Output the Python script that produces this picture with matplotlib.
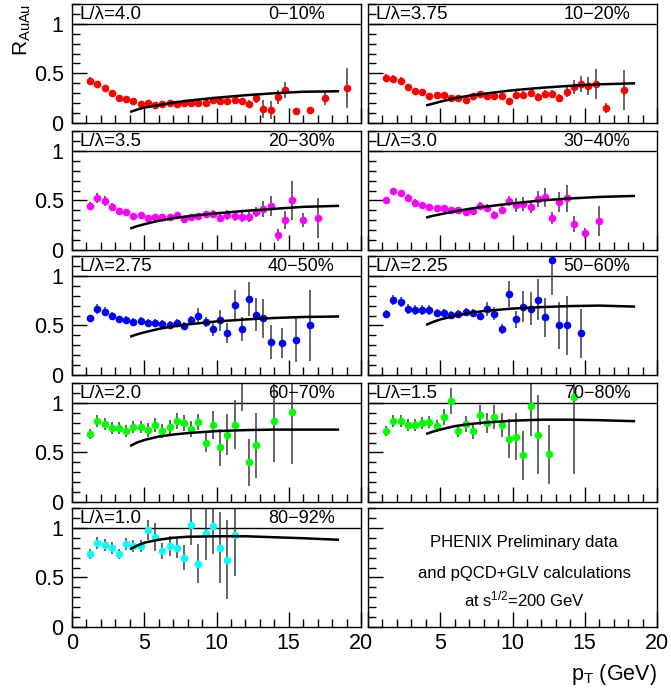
import matplotlib.pyplot as plt
from matplotlib.ticker import MultipleLocator

plt.rcParams['font.family'] = ['Liberation Sans', 'DejaVu Sans']
plt.rcParams['mathtext.fontset'] = 'custom'
plt.rcParams['mathtext.rm'] = 'Liberation Sans'
plt.rcParams['mathtext.it'] = 'Liberation Sans'

# --- data ---
pt_0_10 = [1.25, 1.75, 2.25, 2.75, 3.25, 3.75, 4.25, 4.75, 5.25, 5.75, 6.25, 6.75, 7.25, 7.75, 8.25, 8.75,
           9.25, 9.75, 10.25, 10.75, 11.25, 11.75, 12.25, 12.75, 13.25, 13.75, 14.25, 14.75, 15.5, 16.5, 17.5, 19.0]
raa_0_10 = [0.42, 0.39, 0.35, 0.30, 0.25, 0.24, 0.22, 0.19, 0.20, 0.18, 0.19, 0.20, 0.19, 0.20, 0.20, 0.20,
            0.20, 0.23, 0.22, 0.22, 0.23, 0.22, 0.19, 0.25, 0.14, 0.13, 0.26, 0.33, 0.12, 0.13, 0.25, 0.35]
err_0_10 = [0.04, 0.03, 0.03, 0.03, 0.02, 0.02, 0.02, 0.02, 0.02, 0.02, 0.02, 0.02, 0.02, 0.02, 0.02, 0.02,
            0.02, 0.03, 0.03, 0.03, 0.03, 0.03, 0.04, 0.05, 0.09, 0.09, 0.07, 0.08, 0.03, 0.03, 0.07, 0.20]

pt_10_20 = [1.25, 1.75, 2.25, 2.75, 3.25, 3.75, 4.25, 4.75, 5.25, 5.75, 6.25, 6.75, 7.25, 7.75, 8.25, 8.75,
            9.25, 9.75, 10.25, 10.75, 11.25, 11.75, 12.25, 12.75, 13.25, 13.75, 14.25, 14.75, 15.25, 15.75, 16.5, 17.75]
raa_10_20 = [0.45, 0.44, 0.42, 0.36, 0.32, 0.31, 0.27, 0.28, 0.28, 0.25, 0.25, 0.23, 0.27, 0.29, 0.27, 0.27,
             0.27, 0.22, 0.28, 0.28, 0.30, 0.26, 0.29, 0.29, 0.25, 0.31, 0.36, 0.39, 0.37, 0.39, 0.15, 0.33]
err_10_20 = [0.04, 0.04, 0.04, 0.03, 0.03, 0.03, 0.03, 0.03, 0.03, 0.02, 0.02, 0.02, 0.03, 0.03, 0.03, 0.03,
             0.03, 0.03, 0.04, 0.04, 0.04, 0.04, 0.04, 0.04, 0.04, 0.05, 0.07, 0.08, 0.09, 0.15, 0.05, 0.20]

pt_20_30 = [1.25, 1.75, 2.25, 2.75, 3.25, 3.75, 4.25, 4.75, 5.25, 5.75, 6.25, 6.75, 7.25, 7.75, 8.25, 8.75,
            9.25, 9.75, 10.25, 10.75, 11.25, 11.75, 12.25, 12.75, 13.25, 13.75, 14.25, 14.75, 15.25, 16.0, 17.0]
raa_20_30 = [0.44, 0.52, 0.49, 0.43, 0.39, 0.38, 0.34, 0.35, 0.32, 0.33, 0.33, 0.33, 0.35, 0.31, 0.33, 0.34,
             0.36, 0.36, 0.32, 0.35, 0.34, 0.33, 0.33, 0.38, 0.41, 0.44, 0.15, 0.30, 0.50, 0.30, 0.32]
err_20_30 = [0.04, 0.05, 0.05, 0.04, 0.03, 0.03, 0.03, 0.03, 0.02, 0.02, 0.02, 0.02, 0.03, 0.03, 0.03, 0.03,
             0.03, 0.04, 0.04, 0.05, 0.05, 0.05, 0.05, 0.05, 0.08, 0.10, 0.06, 0.09, 0.20, 0.07, 0.20]

pt_30_40 = [1.25, 1.75, 2.25, 2.75, 3.25, 3.75, 4.25, 4.75, 5.25, 5.75, 6.25, 6.75, 7.25, 7.75, 8.25, 8.75,
            9.25, 9.75, 10.25, 10.75, 11.25, 11.75, 12.25, 12.75, 13.25, 13.75, 14.25, 15.0, 16.0]
raa_30_40 = [0.50, 0.59, 0.57, 0.52, 0.47, 0.45, 0.43, 0.42, 0.42, 0.40, 0.40, 0.38, 0.39, 0.44, 0.42, 0.35,
             0.40, 0.49, 0.45, 0.46, 0.43, 0.51, 0.53, 0.32, 0.48, 0.52, 0.26, 0.17, 0.29]
err_30_40 = [0.03, 0.04, 0.04, 0.04, 0.04, 0.03, 0.03, 0.03, 0.03, 0.03, 0.03, 0.03, 0.03, 0.04, 0.04, 0.04,
             0.04, 0.05, 0.07, 0.07, 0.06, 0.08, 0.10, 0.06, 0.10, 0.14, 0.08, 0.05, 0.15]

pt_40_50 = [1.25, 1.75, 2.25, 2.75, 3.25, 3.75, 4.25, 4.75, 5.25, 5.75, 6.25, 6.75, 7.25, 7.75, 8.25, 8.75,
            9.25, 9.75, 10.25, 10.75, 11.25, 11.75, 12.25, 12.75, 13.25, 13.75, 14.5, 15.5, 16.5]
raa_40_50 = [0.57, 0.67, 0.64, 0.60, 0.56, 0.55, 0.53, 0.54, 0.52, 0.52, 0.51, 0.50, 0.52, 0.49, 0.55, 0.60,
             0.53, 0.46, 0.55, 0.42, 0.71, 0.46, 0.77, 0.61, 0.57, 0.33, 0.32, 0.35, 0.50]
err_40_50 = [0.04, 0.05, 0.05, 0.04, 0.04, 0.04, 0.04, 0.04, 0.04, 0.04, 0.04, 0.04, 0.04, 0.04, 0.05, 0.08,
             0.05, 0.07, 0.11, 0.10, 0.15, 0.12, 0.17, 0.17, 0.20, 0.17, 0.15, 0.22, 0.36]

pt_50_60 = [1.25, 1.75, 2.25, 2.75, 3.25, 3.75, 4.25, 4.75, 5.25, 5.75, 6.25, 6.75, 7.25, 7.75, 8.25, 8.75,
            9.25, 9.75, 10.25, 10.75, 11.25, 11.75, 12.25, 12.75, 13.25, 13.75, 14.75]
raa_50_60 = [0.62, 0.76, 0.74, 0.67, 0.66, 0.66, 0.66, 0.63, 0.63, 0.61, 0.62, 0.64, 0.63, 0.60, 0.67, 0.62,
             0.46, 0.82, 0.56, 0.69, 0.67, 0.76, 0.58, 1.16, 0.50, 0.50, 0.42]
err_50_60 = [0.04, 0.05, 0.05, 0.05, 0.05, 0.05, 0.05, 0.04, 0.04, 0.04, 0.04, 0.04, 0.04, 0.05, 0.07, 0.07,
             0.05, 0.13, 0.09, 0.16, 0.17, 0.21, 0.20, 0.35, 0.24, 0.30, 0.25]

pt_60_70 = [1.25, 1.75, 2.25, 2.75, 3.25, 3.75, 4.25, 4.75, 5.25, 5.75, 6.25, 6.75, 7.25, 7.75, 8.25, 8.75,
            9.25, 9.75, 10.25, 10.75, 11.25, 11.75, 12.25, 12.75, 14.0, 15.25]
raa_60_70 = [0.69, 0.82, 0.79, 0.75, 0.75, 0.72, 0.76, 0.76, 0.73, 0.78, 0.72, 0.76, 0.82, 0.80, 0.74, 0.81,
             0.60, 0.78, 0.55, 0.68, 0.78, 1.35, 0.40, 0.57, 0.82, 0.91]
err_60_70 = [0.05, 0.06, 0.06, 0.06, 0.06, 0.06, 0.06, 0.06, 0.07, 0.07, 0.07, 0.07, 0.08, 0.08, 0.08, 0.08,
             0.10, 0.14, 0.19, 0.21, 0.25, 0.43, 0.24, 0.33, 0.42, 0.53]

pt_70_80 = [1.25, 1.75, 2.25, 2.75, 3.25, 3.75, 4.25, 4.75, 5.25, 5.75, 6.25, 6.75, 7.25, 7.75, 8.25, 8.75,
            9.25, 9.75, 10.25, 10.75, 11.25, 11.75, 12.5, 14.25]
raa_70_80 = [0.72, 0.82, 0.82, 0.78, 0.78, 0.80, 0.81, 0.77, 0.86, 1.02, 0.72, 0.79, 0.72, 0.88, 0.80, 0.86,
             0.78, 0.64, 0.66, 0.47, 0.97, 0.68, 0.48, 1.06]
err_70_80 = [0.05, 0.06, 0.06, 0.06, 0.06, 0.06, 0.06, 0.06, 0.08, 0.13, 0.06, 0.08, 0.08, 0.10, 0.10, 0.12,
             0.12, 0.20, 0.24, 0.25, 0.30, 0.40, 0.30, 0.78]

pt_80_92 = [1.25, 1.75, 2.25, 2.75, 3.25, 3.75, 4.25, 4.75, 5.25, 5.75, 6.25, 6.75, 7.25, 7.75, 8.25, 8.75,
            9.25, 9.75, 10.25, 10.75, 11.25]
raa_80_92 = [0.74, 0.85, 0.83, 0.80, 0.74, 0.84, 0.82, 0.82, 0.98, 0.91, 0.77, 0.82, 0.80, 0.70, 1.03, 0.64,
             0.95, 1.02, 0.80, 0.68, 0.93]
err_80_92 = [0.05, 0.06, 0.06, 0.06, 0.05, 0.06, 0.06, 0.06, 0.10, 0.14, 0.08, 0.10, 0.10, 0.13, 0.20, 0.20,
             0.27, 0.28, 0.36, 0.40, 0.42]

# pQCD+GLV curves
theory_pt = [4.1, 4.5, 5, 6, 7, 8, 10, 12, 14, 16, 18.4]
glv_0_10 = [0.115, 0.135, 0.155, 0.18, 0.205, 0.225, 0.255, 0.28, 0.30, 0.315, 0.32]
glv_10_20 = [0.18, 0.195, 0.215, 0.25, 0.275, 0.295, 0.33, 0.355, 0.375, 0.39, 0.40]
glv_20_30 = [0.22, 0.24, 0.26, 0.295, 0.32, 0.34, 0.37, 0.395, 0.415, 0.435, 0.445]
glv_30_40 = [0.33, 0.345, 0.36, 0.39, 0.415, 0.435, 0.47, 0.50, 0.52, 0.535, 0.545]
glv_40_50 = [0.39, 0.41, 0.43, 0.465, 0.49, 0.51, 0.54, 0.56, 0.575, 0.585, 0.59]
glv_50_60 = [0.51, 0.535, 0.56, 0.595, 0.625, 0.645, 0.67, 0.685, 0.695, 0.70, 0.69]
glv_60_70 = [0.57, 0.60, 0.625, 0.66, 0.68, 0.695, 0.715, 0.725, 0.73, 0.73, 0.73]
glv_70_80 = [0.69, 0.71, 0.73, 0.765, 0.785, 0.80, 0.82, 0.83, 0.83, 0.825, 0.815]
glv_80_92 = [0.79, 0.82, 0.85, 0.88, 0.90, 0.91, 0.915, 0.915, 0.905, 0.895, 0.88]

centrality = ['0\u221210%', '10\u221220%', '20\u221230%', '30\u221240%', '40\u221250%',
              '50\u221260%', '60\u221270%', '70\u221280%', '80\u221292%']
l_over_lambda = ['4.0', '3.75', '3.5', '3.0', '2.75', '2.25', '2.0', '1.5', '1.0']
colors = ['#ff0000', '#ff0000', '#ff00ff', '#ff00ff', '#0000ff', '#0000ff', '#00ff00', '#00ff00', '#00ffff']

pts = [pt_0_10, pt_10_20, pt_20_30, pt_30_40, pt_40_50, pt_50_60, pt_60_70, pt_70_80, pt_80_92]
raas = [raa_0_10, raa_10_20, raa_20_30, raa_30_40, raa_40_50, raa_50_60, raa_60_70, raa_70_80, raa_80_92]
errs = [err_0_10, err_10_20, err_20_30, err_30_40, err_40_50, err_50_60, err_60_70, err_70_80, err_80_92]
glvs = [glv_0_10, glv_10_20, glv_20_30, glv_30_40, glv_40_50, glv_50_60, glv_60_70, glv_70_80, glv_80_92]

# --- layout (pixels) ---
W, H = 671, 688
col_x = [72, 368]
col_w = 289
row_top = [4, 131, 256, 383, 508]
row_h = 119

fig = plt.figure(figsize=(W / 100, H / 100), dpi=100)


def make_axes(r, c):
    ax = fig.add_axes([col_x[c] / W, 1 - (row_top[r] + row_h) / H, col_w / W, row_h / H])
    ax.set_xlim(0, 20)
    ax.set_ylim(0, 1.2)
    ax.set_xticks([0, 5, 10, 15, 20])
    ax.xaxis.set_minor_locator(MultipleLocator(1))
    ax.set_yticks([0, 0.5, 1])
    ax.set_yticklabels(['0', '0.5', '1'])
    ax.yaxis.set_minor_locator(MultipleLocator(0.1))
    ax.tick_params(which='both', direction='in', top=False, right=False, width=1, labelsize=15.5)
    ax.tick_params(which='major', length=11)
    ax.tick_params(which='minor', length=5.5)
    ax.tick_params(axis='y', pad=6, labelleft=(c == 0))
    ax.tick_params(axis='x', pad=4, labelbottom=(r == 4))
    if c == 1:
        ax.set_xticklabels(['', '5', '10', '15', '20'])
    for s in ax.spines.values():
        s.set_linewidth(1.0)
    return ax


for i in range(9):
    r, c = divmod(i, 2)
    ax = make_axes(r, c)
    ax.axhline(1.0, color='k', lw=1.0)
    ax.errorbar(pts[i], raas[i], yerr=errs[i], fmt='none', ecolor='#3a3a3a', elinewidth=1.1, zorder=2)
    ax.plot(pts[i], raas[i], 'o', color=colors[i], markersize=5.5, markeredgewidth=0, zorder=3)
    ax.plot(theory_pt, glvs[i], color='k', lw=1.8, zorder=4)
    ax.text(0.5, 1.09, 'L/\u03bb=' + l_over_lambda[i], fontsize=13.5, ha='left', va='center')
    ax.text(13.55, 1.09, centrality[i], fontsize=13, ha='left', va='center')

ax = make_axes(4, 1)
ax.text(0.54, 0.71, 'PHENIX Preliminary data', transform=ax.transAxes, ha='center', va='center', fontsize=12)
ax.text(0.54, 0.45, 'and pQCD+GLV calculations', transform=ax.transAxes, ha='center', va='center', fontsize=12)
ax.text(0.54, 0.23, 'at s$^{1/2}$=200 GeV', transform=ax.transAxes, ha='center', va='center', fontsize=12)

fig.text(22 / W, 1 - 4 / H, r'R$_{\mathregular{AuAu}}$', rotation=90, ha='center', va='top', fontsize=15)
fig.text(657 / W, 1 - 680 / H, r'p$_{\mathregular{T}}$ (GeV)', ha='right', va='baseline', fontsize=15.5)

fig.savefig('out.png', dpi=100)
